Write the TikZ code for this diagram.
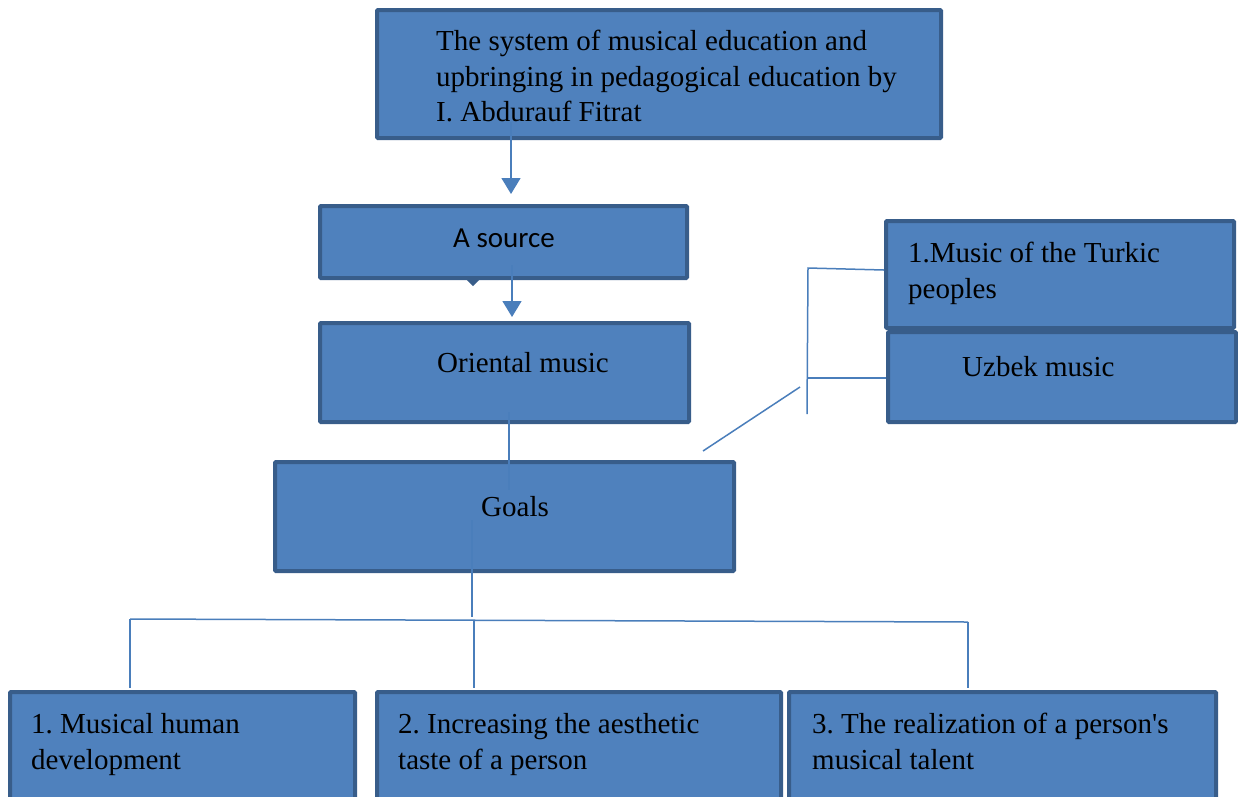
\documentclass[tikz,border=0pt]{standalone}
\usepackage{fontspec}
\setmainfont{Liberation Serif}
\newfontfamily\carl{Carlito}
\usetikzlibrary{arrows.meta}
\frenchspacing
\definecolor{boxfill}{HTML}{4F81BD}
\definecolor{boxline}{HTML}{385D8A}
\definecolor{conn}{HTML}{4A7EBB}
\tikzset{
  box/.style={draw=boxline, fill=boxfill, line width=4pt, rounded corners=1pt, anchor=north west, inner sep=0pt, outer sep=0pt},
  lbl/.style={anchor=base west, inner sep=0pt, font=\fontsize{29}{35.5}\selectfont, text=black},
  conline/.style={draw=conn, line width=1.5pt},
  arr/.style={conline, -{Triangle[width=19pt,length=16pt]}},
}
\begin{document}
\begin{tikzpicture}[x=1pt,y=-1pt]
\clip (0,0) rectangle (1238,796);
\fill[white] (0,0) rectangle (1238,796);
% boxes
\node[box, minimum width=564pt, minimum height=128pt] (top) at (377,10) {};
\node[box, minimum width=367pt, minimum height=72pt] (src) at (320,206) {};
\node[box, minimum width=369pt, minimum height=99pt] (ori) at (320,323) {};
\node[box, minimum width=459pt, minimum height=109pt] (goals) at (275,462) {};
\node[box, minimum width=348pt, minimum height=107pt] (turk) at (886,221) {};
\node[box, minimum width=348pt, minimum height=90pt] (uzb) at (888,332) {};
\node[box, minimum width=345pt, minimum height=120pt] (b1) at (10,692) {};
\node[box, minimum width=404pt, minimum height=120pt] (b2) at (377,692) {};
\node[box, minimum width=427pt, minimum height=120pt] (b3) at (789,692) {};
% small notch under A source
\fill[boxline] (467,280) -- (479,280) -- (473,286) -- cycle;
% labels
\node[lbl] (t1) at (436,50) {The system of musical education and};
\node[lbl] (t2) at (436,86) {upbringing in pedagogical education by};
\node[lbl] (t3) at (436,121) {I. Abdurauf Fitrat};
\node[lbl, font=\carl\fontsize{29}{35}\selectfont] (s1) at (453,247) {A source};
\node[lbl] (o1) at (437,372) {Oriental music};
\node[lbl] (g1) at (481,516) {Goals};
\node[lbl] (k1) at (908,262) {1.Music of the Turkic};
\node[lbl] (k2) at (908,298) {peoples};
\node[lbl] (u1) at (962,376) {Uzbek music};
\node[lbl] (p1) at (31,733) {1. Musical human};
\node[lbl] (p2) at (31,769) {development};
\node[lbl] (q1) at (398,733) {2. Increasing the aesthetic};
\node[lbl] (q2) at (398,769) {taste of a person};
\node[lbl] (r1) at (812,733) {3. The realization of a person\textquotesingle s};
\node[lbl] (r2) at (812,769) {musical talent};
% connector coordinates
\coordinate (c1s) at (511,122);
\coordinate (c1e) at (511,194);
\coordinate (c2s) at (512,265);
\coordinate (c2e) at (512,317);
\coordinate (c3s) at (509,412);
\coordinate (c3e) at (509,490);
\coordinate (c4s) at (472,520);
\coordinate (c4e) at (472,617);
\coordinate (hl) at (130,619);
\coordinate (hm) at (474,621);
\coordinate (hr) at (968,622);
\coordinate (vl) at (130,688);
\coordinate (vm) at (474,688);
\coordinate (vr) at (968,688);
\coordinate (bt) at (808,268);
\coordinate (bm) at (807,378);
\coordinate (bb) at (807,414);
\coordinate (bk) at (884,270);
\coordinate (bu) at (886,378);
\coordinate (d1) at (703,451);
\coordinate (d2) at (800,387);
% connectors
\draw[arr] (c1s) -- (c1e);
\draw[arr] (c2s) -- (c2e);
\draw[conline] (c3s) -- (c3e);
\draw[conline] (c4s) -- (c4e);
\draw[conline] (hl) -- (hr);
\draw[conline] (hl) -- (vl);
\draw[conline] (hm) -- (vm);
\draw[conline] (hr) -- (vr);
\draw[conline] (bk) -- (bt) -- (bb);
\draw[conline] (bu) -- (bm);
\draw[conline] (d1) -- (d2);
\end{tikzpicture}
\end{document}
